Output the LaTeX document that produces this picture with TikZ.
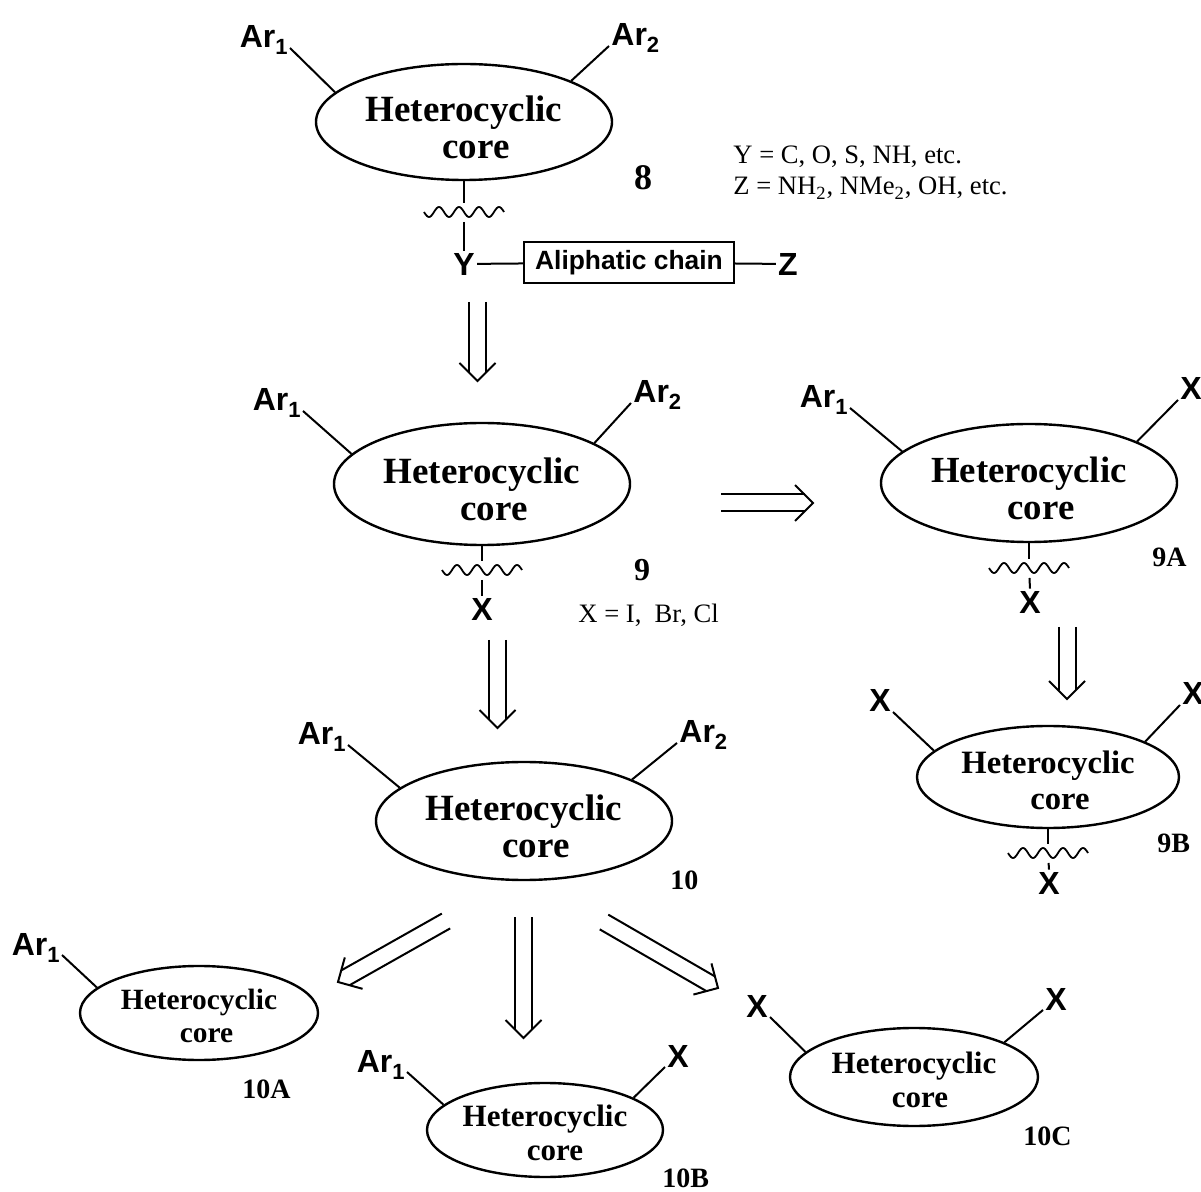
\documentclass[tikz,border=0pt]{standalone}
\usepackage{fontspec}
\setmainfont{Liberation Serif}
\setsansfont{Liberation Sans}
\usetikzlibrary{calc,shapes.geometric}
\newcommand\lsub[1]{\raisebox{-3.5pt}{\fontsize{11}{11}\selectfont #1}}
\newcommand\hcfont[2]{\fontsize{#1}{#2}\selectfont\bfseries}
\newcommand\retroarrow[2]{%
  \coordinate (#1b) at ($(#2)!4.25pt!(#1)$);
  \coordinate (#1w) at ($(#2)!9pt!(#1)$);
  \draw[retro] ($(#1)!4.25pt!90:(#2)$) -- ($(#1b)!4.25pt!90:(#2)$);
  \draw[retro] ($(#1)!4.25pt!-90:(#2)$) -- ($(#1b)!4.25pt!-90:(#2)$);
  \draw[retro] ($(#1w)!9pt!90:(#2)$) -- (#2) -- ($(#1w)!9pt!-90:(#2)$);}
\newcommand\wavebond[1]{\draw[bond, line width=0.9pt, shift={(#1)}] plot[domain=-40:40, samples=81, smooth] (\x, {5*sin(18*\x)});}
\tikzset{
  core/.style={draw, ellipse, line width=1.2pt, inner sep=0pt},
  hctext/.style={inner sep=0pt, align=center},
  bond/.style={line width=1pt},
  lab/.style={font=\sffamily\bfseries\fontsize{16}{16}\selectfont, inner sep=1pt},
  num/.style={font=\bfseries\fontsize{14}{14}\selectfont, inner sep=0pt},
  note/.style={font=\fontsize{13.3}{13.3}\selectfont, inner sep=0pt},
  retro/.style={line width=1pt, line join=miter},
}
\begin{document}
\begin{tikzpicture}[x=0.5pt, y=-0.5pt]
\useasboundingbox (0,0) rectangle (1201,1192);
% ---------- 8
\node[core, minimum width=148pt, minimum height=58pt] (e8) at (464,122) {};
\node[hctext, font=\hcfont{18.5}{18.5}] (t8) at ([yshift=-2.5pt]e8.center) {Heterocyclic\\\hspace*{12pt}core};
\node[lab, anchor=base east] (a8l) at (290,48) {Ar\lsub{1}};
\node[lab, anchor=base west] (a8r) at (609,46) {Ar\lsub{2}};
\draw[bond] (a8l.base east) -- (e8.167);
\draw[bond] (a8r.base west) -- (e8.21);
\coordinate (w8) at (464,212);
\wavebond{w8}
\node[lab] (y8) at (464,264) {Y};
\draw[bond, shorten >=4.5pt] (e8.south) -- (w8);
\draw[bond, shorten <=5pt] (w8) -- (y8.north);
\node[draw, line width=1pt, minimum width=105pt, minimum height=20.5pt, inner sep=0pt, font=\sffamily\bfseries\fontsize{13.2}{13.2}\selectfont] (chain) at (629,262.5) {Aliphatic chain};
\node[lab] (z8) at (788,264) {Z};
\draw[bond] (y8) -- (chain);
\draw[bond] (chain) -- (z8);
\node[num, font=\bfseries\fontsize{18}{18}\selectfont, anchor=base] (n8) at (643,190) {8};
\node[note, anchor=base west] (ydef) at (733,164) {Y = C, O, S, NH, etc.};
\node[note, anchor=base west] (zdef) at (733,195) {Z = NH\textsubscript{2}, NMe\textsubscript{2}, OH, etc.};
% arrow 8 -> 9
\coordinate (ra) at (477.5,302); \coordinate (rat) at (477.5,381);
\retroarrow{ra}{rat}
% ---------- 9
\node[core, minimum width=148pt, minimum height=61pt] (e9) at (482,484) {};
\node[hctext, font=\hcfont{18.5}{18.5}] (t9) at ([yshift=-2.5pt]e9.center) {Heterocyclic\\\hspace*{12pt}core};
\node[lab, anchor=base east] (a9l) at (303,411) {Ar\lsub{1}};
\node[lab, anchor=base west] (a9r) at (631,403) {Ar\lsub{2}};
\draw[bond] (a9l.base east) -- (e9.167);
\draw[bond] (a9r.base west) -- (e9.20);
\coordinate (w9) at (482,570);
\wavebond{w9}
\node[lab] (x9) at (482,609) {X};
\draw[bond, shorten >=4.5pt] (e9.south) -- (w9);
\draw[bond, shorten <=5pt] (w9) -- (x9.north);
\node[num, font=\bfseries\fontsize{16}{16}\selectfont, anchor=base] (n9) at (642,581) {9};
\node[note, anchor=base west] (xdef) at (578,623) {X = I,\ \ Br, Cl};
% arrow 9 -> 9A
\coordinate (rb) at (721,503); \coordinate (rbt) at (813,503);
\retroarrow{rb}{rbt}
% ---------- 9A
\node[core, minimum width=148pt, minimum height=59pt] (e9a) at (1029,483) {};
\node[hctext, font=\hcfont{18.4}{18.5}] (t9a) at ([yshift=-2.5pt]e9a.center) {Heterocyclic\\\hspace*{12pt}core};
\node[lab, anchor=base east] (a9al) at (850,408) {Ar\lsub{1}};
\node[lab, anchor=base west] (x9ar) at (1178,400) {X};
\draw[bond] (a9al.base east) -- (e9a.166);
\draw[bond] (x9ar.base west) -- (e9a.21);
\coordinate (w9a) at (1029,568);
\wavebond{w9a}
\node[lab] (x9ab) at (1030,602) {X};
\draw[bond, shorten >=4.5pt] (e9a.south) -- (w9a);
\draw[bond, shorten <=5pt] (w9a) -- (x9ab.north);
\node[num, anchor=base west] (n9a) at (1152,567) {9A};
% arrow 9A -> 9B
\coordinate (rc) at (1067,627); \coordinate (rct) at (1067,699);
\retroarrow{rc}{rct}
% ---------- 9B
\node[core, minimum width=131pt, minimum height=51pt] (e9b) at (1048,777) {};
\node[hctext, font=\hcfont{16.3}{18}] (t9b) at ([yshift=-1.5pt]e9b.center) {Heterocyclic\\\hspace*{12pt}core};
\node[lab, anchor=base east] (x9bl) at (893,712) {X};
\node[lab, anchor=base west] (x9br) at (1180,705) {X};
\draw[bond] (x9bl.base east) -- (e9b.167);
\draw[bond] (x9br.base west) -- (e9b.20);
\coordinate (w9b) at (1048,853);
\wavebond{w9b}
\node[lab] (x9bb) at (1049,883) {X};
\draw[bond, shorten >=4.5pt] (e9b.south) -- (w9b);
\draw[bond, shorten <=5pt] (w9b) -- (x9bb.north);
\node[num, anchor=base west] (n9b) at (1157,852) {9B};
% arrow 9 -> 10
\coordinate (rd) at (497.5,640); \coordinate (rdt) at (497.5,728);
\retroarrow{rd}{rdt}
% ---------- 10
\node[core, minimum width=148pt, minimum height=59pt] (e10) at (524,821) {};
\node[hctext, font=\hcfont{18.5}{18.5}] (t10) at ([yshift=-2.5pt]e10.center) {Heterocyclic\\\hspace*{12pt}core};
\node[lab, anchor=base east] (a10l) at (348,745) {Ar\lsub{1}};
\node[lab, anchor=base west] (a10r) at (677,743) {Ar\lsub{2}};
\draw[bond] (a10l.base east) -- (e10.165);
\draw[bond] (a10r.base west) -- (e10.21);
\node[num, anchor=base west] (n10) at (670,890) {10};
% arrows from 10
\coordinate (re) at (446,921); \coordinate (ret) at (338,982);
\retroarrow{re}{ret}
\coordinate (rf) at (523.5,917); \coordinate (rft) at (523.5,1038);
\retroarrow{rf}{rft}
\coordinate (rg) at (604,922); \coordinate (rgt) at (718,988);
\retroarrow{rg}{rgt}
% ---------- 10A
\node[core, minimum width=119pt, minimum height=47pt] (e10a) at (199,1013) {};
\node[hctext, font=\hcfont{14.7}{16.5}] (t10a) at ([yshift=-1.5pt]e10a.center) {Heterocyclic\\\hspace*{7.5pt}core};
\node[lab, anchor=base east] (a10al) at (62,955) {Ar\lsub{1}};
\draw[bond] (a10al.base east) -- (e10a.166);
\node[num, anchor=base west] (n10a) at (242,1098) {10A};
% ---------- 10B
\node[core, minimum width=118pt, minimum height=47pt] (e10b) at (545,1130) {};
\node[hctext, font=\hcfont{15.5}{17}] (t10b) at ([yshift=-1.5pt]e10b.center) {Heterocyclic\\\hspace*{10pt}core};
\node[lab, anchor=base east] (a10bl) at (407,1072) {Ar\lsub{1}};
\node[lab, anchor=base west] (x10br) at (665,1067) {X};
\draw[bond] (a10bl.base east) -- (e10b.166);
\draw[bond] (x10br.base west) -- (e10b.20);
\node[num, anchor=base west] (n10b) at (662,1187) {10B};
% ---------- 10C
\node[core, minimum width=124pt, minimum height=49pt] (e10c) at (914,1077) {};
\node[hctext, font=\hcfont{15.5}{17}] (t10c) at ([yshift=-1.5pt]e10c.center) {Heterocyclic\\\hspace*{6pt}core};
\node[lab, anchor=base east] (x10cl) at (770,1017) {X};
\node[lab, anchor=base west] (x10cr) at (1043,1010) {X};
\draw[bond] (x10cl.base east) -- (e10c.167);
\draw[bond] (x10cr.base west) -- (e10c.21);
\node[num, anchor=base west] (n10c) at (1023,1145) {10C};
\end{tikzpicture}
\end{document}
